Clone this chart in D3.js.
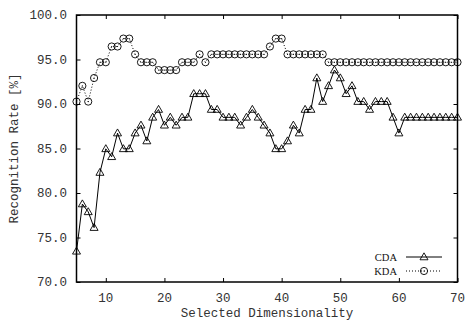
<!DOCTYPE html>
<html>
<head>
<meta charset="utf-8">
<script src="https://cdn.jsdelivr.net/npm/d3@7"></script>
<style>
    body { margin: 0; background: #fff; }
    svg { display: block; }
    .tickLabel, .axisTitle { font-family: "Liberation Mono", "DejaVu Sans Mono", monospace; font-size: 12.5px; fill: #333; }
    .legendText { font-family: "Liberation Serif", serif; font-size: 10.5px; fill: #111; }
</style>
</head>
<body>
<script>
'use strict';

// selected dimensionality (x) and recognition rates (%)
const dims = d3.range(5, 71);
const cdaRates = [
    73.45, 78.76, 77.88, 76.11, 82.30, 84.96, 84.07, 86.73, 84.96, 84.96,
    86.73, 87.61, 85.84, 88.50, 89.38, 87.61, 88.50, 87.61, 88.50, 88.50,
    91.15, 91.15, 91.15, 89.38, 89.38, 88.50, 88.50, 88.50, 87.61, 88.50,
    89.38, 88.50, 87.61, 86.73, 84.96, 84.96, 85.84, 87.61, 86.73, 89.38,
    89.38, 92.92, 90.27, 92.04, 93.81, 92.92, 91.15, 92.04, 90.27, 90.27,
    89.38, 90.27, 90.27, 90.27, 88.50, 86.73, 88.50, 88.50, 88.50, 88.50,
    88.50, 88.50, 88.50, 88.50, 88.50, 88.50
];
const kdaRates = [
    90.27, 92.04, 90.27, 92.92, 94.69, 94.69, 96.46, 96.46, 97.35, 97.35,
    95.58, 94.69, 94.69, 94.69, 93.81, 93.81, 93.81, 93.81, 94.69, 94.69,
    94.69, 95.58, 94.69, 95.58, 95.58, 95.58, 95.58, 95.58, 95.58, 95.58,
    95.58, 95.58, 95.58, 96.46, 97.35, 97.35, 95.58, 95.58, 95.58, 95.58,
    95.58, 95.58, 95.58, 94.69, 94.69, 94.69, 94.69, 94.69, 94.69, 94.69,
    94.69, 94.69, 94.69, 94.69, 94.69, 94.69, 94.69, 94.69, 94.69, 94.69,
    94.69, 94.69, 94.69, 94.69, 94.69, 94.69
];
const xTicks = [10, 20, 30, 40, 50, 60, 70];
const yTicks = [70, 75, 80, 85, 90, 95, 100];
const seriesNames = ['CDA', 'KDA'];

(function () {

    const plot = {
        width: 466,
        height: 322,
        left: 76.5,
        right: 457.5,
        top: 15,
        bottom: 282,
        tick: 4
    };

    function makeScales() {
        return {
            x: d3.scaleLinear().domain([5, 70]).range([plot.left, plot.right]),
            y: d3.scaleLinear().domain([70, 100]).range([plot.bottom, plot.top])
        };
    }

    /**
     * Gnuplot style box: ticks point inward on all four sides.
     */
    function appendAxes(svg, scales) {
        const t = plot.tick;
        svg.append('g')
            .attr('transform', 'translate(0,' + plot.bottom + ')')
            .call(d3.axisTop(scales.x).tickValues(xTicks).tickSize(t).tickFormat(''));
        svg.append('g')
            .attr('transform', 'translate(0,' + plot.top + ')')
            .call(d3.axisBottom(scales.x).tickValues(xTicks).tickSize(t).tickFormat(''));
        svg.append('g')
            .attr('transform', 'translate(' + plot.left + ',0)')
            .call(d3.axisRight(scales.y).tickValues(yTicks).tickSize(t).tickFormat(''));
        svg.append('g')
            .attr('transform', 'translate(' + plot.right + ',0)')
            .call(d3.axisLeft(scales.y).tickValues(yTicks).tickSize(t).tickFormat(''));
        svg.selectAll('.domain').remove();
        svg.selectAll('.tick line').attr('stroke', '#000').attr('stroke-width', 1);

        svg.append('rect')
            .attr('x', plot.left)
            .attr('y', plot.top)
            .attr('width', plot.right - plot.left)
            .attr('height', plot.bottom - plot.top)
            .attr('fill', 'none')
            .attr('stroke', '#000')
            .attr('stroke-width', 1.5);

        svg.append('g').selectAll('text')
            .data(xTicks)
            .enter()
            .append('text')
            .attr('class', 'tickLabel')
            .attr('x', (d) => scales.x(d))
            .attr('y', 302)
            .attr('text-anchor', 'middle')
            .text((d) => d);

        svg.append('g').selectAll('text')
            .data(yTicks)
            .enter()
            .append('text')
            .attr('class', 'tickLabel')
            .attr('x', 67)
            .attr('y', (d) => scales.y(d) + 4)
            .attr('text-anchor', 'end')
            .text((d) => d3.format('.1f')(d));
    }

    function appendTitles(svg) {
        svg.append('text')
            .attr('class', 'axisTitle')
            .attr('x', (plot.left + plot.right) / 2)
            .attr('y', 317)
            .attr('text-anchor', 'middle')
            .text('Selected Dimensionality');
        svg.append('text')
            .attr('class', 'axisTitle')
            .attr('transform', 'translate(18,' + ((plot.top + plot.bottom) / 2) + ') rotate(-90)')
            .attr('text-anchor', 'middle')
            .text('Recognition Rate [%]');
    }

    function triangle(g, size) {
        const h = size * 0.866;
        g.append('path')
            .attr('d', 'M0,' + (-h * 0.6) + 'L' + (size / 2) + ',' + (h * 0.4)
                + 'L' + (-size / 2) + ',' + (h * 0.4) + 'Z')
            .attr('fill', 'none')
            .attr('stroke', '#000')
            .attr('stroke-width', 0.9);
    }

    function circle(g, r) {
        g.append('circle')
            .attr('r', r)
            .attr('fill', 'none')
            .attr('stroke', '#000')
            .attr('stroke-width', 0.9);
        g.append('circle')
            .attr('r', 0.6)
            .attr('fill', '#000');
    }

    function appendSeries(svg, scales, values, dash, marker) {
        const pts = dims.map((d, i) => [scales.x(d), scales.y(values[i])]);
        svg.append('path')
            .datum(pts)
            .attr('d', d3.line())
            .attr('fill', 'none')
            .attr('stroke', '#000')
            .attr('stroke-width', 1)
            .attr('stroke-dasharray', dash);
        svg.append('g').selectAll('g')
            .data(pts)
            .enter()
            .append('g')
            .attr('transform', (p) => 'translate(' + p[0] + ',' + p[1] + ')')
            .each(function () { marker(d3.select(this)); });
    }

    function appendLegend(svg) {
        const rows = [
            { name: seriesNames[0], dash: null, marker: (g) => triangle(g, 8) },
            { name: seriesNames[1], dash: '1,2', marker: (g) => circle(g, 3.6) }
        ];
        rows.forEach((r, i) => {
            const y = 257 + i * 14;
            svg.append('text')
                .attr('class', 'legendText')
                .attr('x', 397)
                .attr('y', y + 4)
                .attr('text-anchor', 'end')
                .text(r.name);
            svg.append('line')
                .attr('x1', 406).attr('x2', 442)
                .attr('y1', y).attr('y2', y)
                .attr('stroke', '#000')
                .attr('stroke-width', 1)
                .attr('stroke-dasharray', r.dash);
            r.marker(svg.append('g').attr('transform', 'translate(424,' + y + ')'));
        });
    }

    function draw() {
        const svg = d3.select('body').append('svg')
            .attr('width', plot.width)
            .attr('height', plot.height);
        svg.append('rect').attr('width', plot.width).attr('height', plot.height).attr('fill', '#fff');
        const scales = makeScales();
        appendAxes(svg, scales);
        appendSeries(svg, scales, cdaRates, null, (g) => triangle(g, 8));
        appendSeries(svg, scales, kdaRates, '1,2', (g) => circle(g, 3.6));
        appendTitles(svg);
        appendLegend(svg);
    }

    draw();

})();
</script>
</body>
</html>
